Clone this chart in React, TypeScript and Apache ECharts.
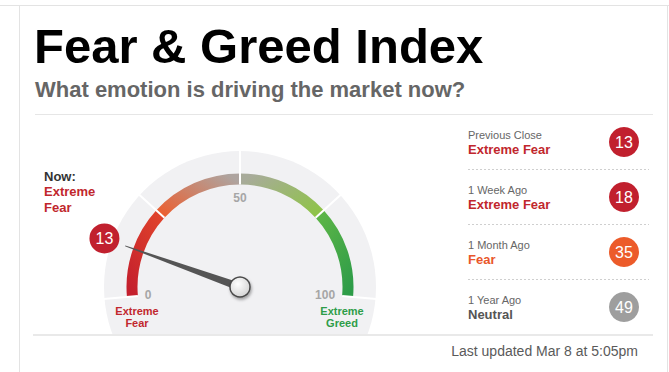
import React, { useEffect, useRef } from 'react';
import * as echarts from 'echarts';

const titleText = 'Fear & Greed Index';
const subtitleText = 'What emotion is driving the market now?';
const updatedText = 'Last updated Mar 8 at 5:05pm';
const nowLabel = 'Now:';
const nowValue = 13;
const gaugeTicks = [0, 25, 50, 75, 100];
const gaugeTickLabels = ['0', '', '50', '', '100'];
const historyLabels = ['Previous Close', '1 Week Ago', '1 Month Ago', '1 Year Ago'];
const historyValues = [13, 18, 35, 49];
const bandNames = ['Extreme Fear', 'Fear', 'Neutral', 'Greed', 'Extreme Greed'];
const bandLimits = [25, 45, 56, 76, 101];

const FONT = '"Liberation Sans", Arial, Helvetica, sans-serif';
const bandBadge = ['#c1202e', '#ec5b2a', '#9e9e9e', '#7cc242', '#2e9d48'];
const bandText = ['#c1272d', '#e9572b', '#555555', '#5aa83a', '#2e9d48'];

const bandOf = (v: number) => {
  for (let i = 0; i < bandLimits.length; i++) if (v < bandLimits[i]) return i;
  return bandLimits.length - 1;
};

const grad = (x: number, y: number, x2: number, y2: number, c0: string, c1: string) => ({
  type: 'linear', x, y, x2, y2,
  colorStops: [
    { offset: 0, color: c0 },
    { offset: 1, color: c1 },
  ],
});

// arc colour segments (style only)
const arcColors: [number, any][] = [
  [0.25, grad(0.2, 1, 0.8, 0, '#c41f2d', '#e0432b')],
  [0.5, grad(0, 1, 1, 0.2, '#f05a28', '#aea49f')],
  [0.75, grad(0, 0.2, 1, 1, '#a8ab9a', '#8cc63f')],
  [1, grad(0.2, 0, 0.8, 1, '#5db547', '#2d9c48')],
];

const START = 185;
const END = -5;
const CX = 240;
const CY = 287;
const badgeAngle = ((START - ((START - END) * nowValue) / 100) * Math.PI) / 180;
const badgeR = 144;
const badgeOffset = [badgeR * Math.cos(badgeAngle), -badgeR * Math.sin(badgeAngle)];
const nowBand = bandOf(nowValue);

const richBands: Record<string, any> = {
  a: { fontSize: 11, color: '#666666', lineHeight: 14, fontFamily: FONT },
};
bandText.forEach((c, i) => {
  richBands['b' + i] = { fontSize: 13, fontWeight: 'bold', color: c, lineHeight: 15, fontFamily: FONT };
});

const option: any = {
  animation: false,
  backgroundColor: '#ffffff',
  textStyle: { fontFamily: FONT },
  grid: [
    { left: 468, right: 20, top: 114.5, height: 220 },
    { left: 609, width: 30, top: 114.5, height: 220 },
  ],
  xAxis: [
    { gridIndex: 0, type: 'value', show: false },
    { gridIndex: 1, type: 'category', data: ['score'], show: false },
  ],
  yAxis: [
    {
      gridIndex: 0,
      type: 'category',
      data: historyLabels,
      inverse: true,
      axisLine: { show: false },
      axisTick: { show: false },
      axisLabel: {
        inside: true,
        margin: 0,
        interval: 0,
        formatter: (value: string, index: number) => {
          const b = bandOf(historyValues[index]);
          return `{a|${value}}\n{b${b}|${bandNames[b]}}`;
        },
        rich: richBands,
      },
      splitLine: {
        show: true,
        showMinLine: false,
        showMaxLine: false,
        lineStyle: { color: '#cfcfcf', type: [2, 2], width: 1 },
      },
    },
    { gridIndex: 1, type: 'category', data: historyLabels, inverse: true, show: false },
  ],
  graphic: [
    { type: 'line', shape: { x1: 0, y1: 5.5, x2: 669, y2: 5.5 }, style: { stroke: '#e3e3e3', lineWidth: 1 }, z: 5 },
    { type: 'line', shape: { x1: 19.5, y1: 5, x2: 19.5, y2: 372 }, style: { stroke: '#e3e3e3', lineWidth: 1 }, z: 5 },
    { type: 'line', shape: { x1: 667.5, y1: 5, x2: 667.5, y2: 372 }, style: { stroke: '#e3e3e3', lineWidth: 1 }, z: 5 },
    { type: 'circle', shape: { cx: CX, cy: CY, r: 136 }, style: { fill: '#f1f1f3' }, z: 0 },
    { type: 'rect', shape: { x: 20, y: 335, width: 647, height: 37 }, style: { fill: '#ffffff' }, z: 1 },
    { type: 'line', shape: { x1: 35, y1: 114.5, x2: 653, y2: 114.5 }, style: { stroke: '#e6e6e6', lineWidth: 1 }, z: 5 },
    { type: 'line', shape: { x1: 33, y1: 335, x2: 653, y2: 335 }, style: { stroke: '#e9e9e9', lineWidth: 2 }, z: 5 },
    {
      type: 'text', x: 34, y: 45.5, z: 5,
      style: { text: titleText, fontSize: 49, fontWeight: 'bold', fill: '#000000', fontFamily: FONT, textVerticalAlign: 'middle' },
    },
    {
      type: 'text', x: 35, y: 89.5, z: 5,
      style: { text: subtitleText, fontSize: 22, fontWeight: 'bold', fill: '#666666', fontFamily: FONT, textVerticalAlign: 'middle' },
    },
    {
      type: 'text', x: 44, y: 191.5, z: 5,
      style: {
        text: `{n|${nowLabel}}\n` + bandNames[nowBand].split(' ').map((w) => `{b|${w}}`).join('\n'),
        textVerticalAlign: 'middle',
        rich: {
          n: { fontSize: 13, fontWeight: 'bold', fill: '#333333', lineHeight: 15.5, fontFamily: FONT },
          b: { fontSize: 13, fontWeight: 'bold', fill: bandText[nowBand], lineHeight: 15.5, fontFamily: FONT },
        },
      },
    },
    {
      type: 'text', x: 137, y: 317, z: 5,
      style: {
        text: bandNames[0].split(' ').join('\n'), fontSize: 11, fontWeight: 'bold', fill: bandText[0],
        fontFamily: FONT, textAlign: 'center', textVerticalAlign: 'middle', lineHeight: 12,
      },
    },
    {
      type: 'text', x: 342, y: 317, z: 5,
      style: {
        text: bandNames[4].split(' ').join('\n'), fontSize: 11, fontWeight: 'bold', fill: bandText[4],
        fontFamily: FONT, textAlign: 'center', textVerticalAlign: 'middle', lineHeight: 12,
      },
    },
    {
      type: 'text', x: 638, y: 351, z: 5,
      style: { text: updatedText, fontSize: 14, fill: '#5a5a5a', fontFamily: FONT, textAlign: 'right', textVerticalAlign: 'middle' },
    },
  ],
  series: [
    {
      type: 'gauge',
      z: 3,
      center: [CX, CY],
      radius: 113.5,
      startAngle: START,
      endAngle: END,
      min: 0,
      max: 100,
      splitNumber: 4,
      axisLine: { roundCap: false, lineStyle: { width: 11, color: arcColors } },
      progress: { show: false },
      splitLine: { show: true, distance: -34.5, length: 34.5, lineStyle: { color: '#ffffff', width: 2 } },
      axisTick: { show: false },
      axisLabel: {
        distance: 18,
        color: '#a6a6a6',
        fontSize: 12,
        fontWeight: 'bold',
        fontFamily: FONT,
        formatter: (v: number) => {
          const i = gaugeTicks.indexOf(Math.round(v));
          return i >= 0 ? gaugeTickLabels[i] : '';
        },
      },
      pointer: {
        show: true,
        icon: 'path://M4.4,0 L5.6,0 L10,100 L0,100 Z',
        length: 122,
        width: 8,
        offsetCenter: [0, 0],
        itemStyle: { color: '#555555' },
      },
      anchor: {
        show: true,
        showAbove: true,
        size: 20,
        offsetCenter: [0, 0],
        itemStyle: {
          color: {
            type: 'radial', x: 0.4, y: 0.35, r: 0.75,
            colorStops: [
              { offset: 0, color: '#ffffff' },
              { offset: 1, color: '#cfcfcf' },
            ],
          },
          borderColor: '#4a4a4a',
          borderWidth: 1.5,
          shadowColor: 'rgba(0,0,0,0.35)',
          shadowBlur: 3,
          shadowOffsetX: 1,
          shadowOffsetY: 2,
        },
      },
      title: { show: false },
      detail: {
        show: true,
        valueAnimation: false,
        offsetCenter: badgeOffset,
        formatter: '{value}',
        color: '#ffffff',
        fontSize: 16,
        fontWeight: 'normal',
        fontFamily: FONT,
        backgroundColor: bandBadge[nowBand],
        width: 30,
        height: 30,
        lineHeight: 30,
        borderRadius: 15,
        padding: 0,
      },
      data: [{ value: nowValue }],
    },
    {
      type: 'scatter',
      xAxisIndex: 1,
      yAxisIndex: 1,
      symbolSize: 30,
      data: historyValues.map((v, i) => ({ value: [0, i, v], itemStyle: { color: bandBadge[bandOf(v)], opacity: 1 } })),
      itemStyle: { opacity: 1 },
      label: {
        show: true,
        position: 'inside',
        formatter: (p: any) => String(p.value[2]),
        color: '#ffffff',
        fontSize: 16,
        fontFamily: FONT,
      },
    },
  ],
};

export default function App() {
  const ref = useRef<HTMLDivElement>(null);
  useEffect(() => {
    const chart = echarts.init(ref.current!, null, { renderer: 'svg' });
    chart.setOption(option);
    return () => chart.dispose();
  }, []);
  return <div ref={ref} style={{ position: 'absolute', left: 0, top: 0, width: 669, height: 372 }} />;
}
